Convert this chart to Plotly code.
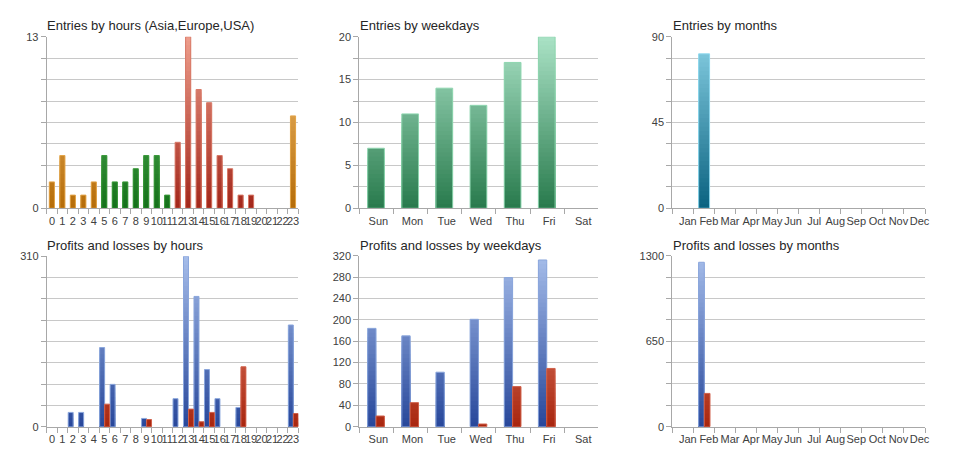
import plotly.graph_objects as go

# ---------------- data ----------------
hour_labels = ['0', '1', '2', '3', '4', '5', '6', '7', '8', '9', '10', '11',
               '12', '13', '14', '15', '16', '17', '18', '19', '20', '21', '22', '23']
hour_sessions = ['Asia'] * 5 + ['Europe'] * 7 + ['USA'] * 8 + ['Asia'] * 4
weekday_labels = ['Sun', 'Mon', 'Tue', 'Wed', 'Thu', 'Fri', 'Sat']
month_labels = ['Jan', 'Feb', 'Mar', 'Apr', 'May', 'Jun', 'Jul', 'Aug', 'Sep', 'Oct', 'Nov', 'Dec']

entries_by_hour = [2, 4, 1, 1, 2, 4, 2, 2, 3, 4, 4, 1, 5, 13, 9, 8, 4, 3, 1, 1, 0, 0, 0, 7]
entries_by_weekday = [7, 11, 14, 12, 17, 20, 0]
entries_by_month = [0, 81, 0, 0, 0, 0, 0, 0, 0, 0, 0, 0]

profit_by_hour = [0, 0, 26, 26, 0, 144, 77, 0, 0, 15, 0, 0, 51, 310, 237, 104, 51, 0, 35, 0, 0, 0, 0, 185]
loss_by_hour = [0, 0, 0, 0, 0, 41, 0, 0, 0, 13, 0, 0, 0, 32, 9, 26, 0, 0, 109, 0, 0, 0, 0, 24]
profit_by_weekday = [184, 170, 102, 201, 279, 312, 0]
loss_by_weekday = [20, 45, 0, 5, 75, 109, 0]
profit_by_month = [0, 1250, 0, 0, 0, 0, 0, 0, 0, 0, 0, 0]
loss_by_month = [0, 253, 0, 0, 0, 0, 0, 0, 0, 0, 0, 0]

# axis scales (max and labelled ticks)
ymax_list = [13, 20, 90, 310, 320, 1300]
ylabels_list = [[0, 13], [0, 5, 10, 15, 20], [0, 45, 90], [0, 310],
                [0, 40, 80, 120, 160, 200, 240, 280, 320], [0, 650, 1300]]
titles = ['Entries by hours (Asia,Europe,USA)', 'Entries by weekdays', 'Entries by months',
          'Profits and losses by hours', 'Profits and losses by weekdays', 'Profits and losses by months']

# ---------------- styling ----------------
# the page body has an 8px default margin; size the figure so it fits the 960x453 window
BODY = 8
W, H = 960 - 2 * BODY, 453 - 2 * BODY
FONT = 'Liberation Sans, Arial, sans-serif'

session_colors = {  # bottom, top (at top of plot), edge
    'Asia': ('#b56c08', '#f6c47a', '#e3a54a'),
    'Europe': ('#14701a', '#6cc86c', '#3c9a3c'),
    'USA': ('#a2261a', '#ee9e8c', '#d87a68'),
}
green = ('#287a4c', '#aae2c6', '#8fd6b0')
cyan = ('#0a6280', '#88d0e4', '#8ed8ee')
blue = ('#27479a', '#a6bdea', '#8aa6dc')
red = ('#a8260f', '#f09a86', '#d0604a')


def hex2rgb(h):
    h = h.lstrip('#')
    return tuple(int(h[i:i + 2], 16) for i in (0, 2, 4))


def mix(c1, c2, t):
    a, b = hex2rgb(c1), hex2rgb(c2)
    return 'rgb(%d,%d,%d)' % tuple(round(a[i] + (b[i] - a[i]) * t) for i in range(3))


def px_x(x):
    return (x - BODY) / W


def px_y(y):
    return 1 - (y - BODY) / H


fig = go.Figure()

# panel geometry in window pixels: (x0, x1, ytop, ybottom)
geom = [(46.7, 298.3, 36.7, 208.3), (359.3, 598.3, 36.7, 208.3), (672.3, 925, 36.7, 208.3),
        (46.7, 298.3, 256.3, 426.7), (359.3, 598.3, 255.7, 426.7), (672.3, 925, 255.7, 426.7)]
title_pos = [(45, 26), (357.5, 26), (671, 26), (45, 245), (357.5, 245), (670.5, 245)]
cats_list = [hour_labels, weekday_labels, month_labels, hour_labels, weekday_labels, month_labels]
label_shift = [0, 2, 5, 0, 2, 5]

NB = 40


def add_series(n, cats, values, bottoms, tops, edges, ymax, offset, width):
    xr = 'x' if n == 1 else 'x%d' % n
    yr = 'y' if n == 1 else 'y%d' % n
    for k in reversed(range(NB)):
        lo = ymax * k / NB
        hi = ymax * (k + 1) / NB
        ys = [min(v, hi) if v > lo else None for v in values]
        if all(y is None for y in ys):
            continue
        t = (k + 0.5) / NB
        cols = [mix(b, tp, t) for b, tp in zip(bottoms, tops)]
        fig.add_trace(go.Bar(x=cats, y=ys, offset=offset, width=width,
                             marker=dict(color=cols, line=dict(width=0)),
                             xaxis=xr, yaxis=yr, showlegend=False, hoverinfo='skip'))
    fig.add_trace(go.Bar(x=cats, y=[v if v > 0 else None for v in values], offset=offset, width=width,
                         marker=dict(color='rgba(0,0,0,0)', line=dict(width=1, color=edges)),
                         xaxis=xr, yaxis=yr, showlegend=False, hoverinfo='skip'))


# Entries by hours
add_series(1, hour_labels, entries_by_hour,
           [session_colors[s][0] for s in hour_sessions],
           [session_colors[s][1] for s in hour_sessions],
           [session_colors[s][2] for s in hour_sessions], ymax_list[0], -0.25, 0.49)
# Entries by weekdays
n7 = len(weekday_labels)
add_series(2, weekday_labels, entries_by_weekday, [green[0]] * n7, [green[1]] * n7, [green[2]] * n7,
           ymax_list[1], -0.255, 0.49)
# Entries by months
n12 = len(month_labels)
add_series(3, month_labels, entries_by_month, [cyan[0]] * n12, [cyan[1]] * n12, [cyan[2]] * n12,
           ymax_list[2], -0.25, 0.52)
# Profits/losses by hours
n24 = len(hour_labels)
add_series(4, hour_labels, profit_by_hour, [blue[0]] * n24, [blue[1]] * n24, [blue[2]] * n24,
           ymax_list[3], -0.45, 0.475)
add_series(4, hour_labels, loss_by_hour, [red[0]] * n24, [red[1]] * n24, [red[2]] * n24,
           ymax_list[3], 0.03, 0.47)
# Profits/losses by weekdays
add_series(5, weekday_labels, profit_by_weekday, [blue[0]] * n7, [blue[1]] * n7, [blue[2]] * n7,
           ymax_list[4], -0.255, 0.245)
add_series(5, weekday_labels, loss_by_weekday, [red[0]] * n7, [red[1]] * n7, [red[2]] * n7,
           ymax_list[4], -0.01, 0.245)
# Profits/losses by months
add_series(6, month_labels, profit_by_month, [blue[0]] * n12, [blue[1]] * n12, [blue[2]] * n12,
           ymax_list[5], -0.25, 0.27)
add_series(6, month_labels, loss_by_month, [red[0]] * n12, [red[1]] * n12, [red[2]] * n12,
           ymax_list[5], 0.02, 0.27)

layout = dict(width=W, height=H, margin=dict(l=0, r=0, t=0, b=0, pad=0), template='none',
              paper_bgcolor='white', plot_bgcolor='white', barmode='overlay',
              font=dict(family=FONT, size=11, color='#404040'), annotations=[])

for i in range(6):
    n = i + 1
    x0, x1, yt, yb = geom[i]
    ymax = ymax_list[i]
    tv = [ymax * j / 8 for j in range(9)]
    tt = []
    for v in tv:
        lab = ''
        for L in ylabels_list[i]:
            if abs(L - v) < 1e-6:
                lab = str(L)
        tt.append(lab)
    cats = cats_list[i]
    xa = 'xaxis' if n == 1 else 'xaxis%d' % n
    ya = 'yaxis' if n == 1 else 'yaxis%d' % n
    layout[xa] = dict(domain=[px_x(x0), px_x(x1)], anchor='y' if n == 1 else 'y%d' % n,
                      type='category', categoryorder='array', categoryarray=cats,
                      range=[-0.5, len(cats) - 0.5], showgrid=False, zeroline=False,
                      showline=True, linecolor='#a8a8a8', linewidth=1, automargin=False,
                      ticks='outside', tickson='boundaries', ticklen=5, tickcolor='#a8a8a8',
                      tickangle=0, tickmode='array', tickvals=cats, ticktext=cats,
                      ticklabelstandoff=2, ticklabelshift=label_shift[i],
                      tickfont=dict(size=11, color='#404040'), fixedrange=True)
    layout[ya] = dict(domain=[px_y(yb), px_y(yt)], anchor='x' if n == 1 else 'x%d' % n,
                      range=[0, ymax], showgrid=True, gridcolor='#c8c8c8', gridwidth=1,
                      zeroline=False, showline=True, linecolor='#a8a8a8', linewidth=1,
                      automargin=False,
                      ticks='outside', ticklen=5, tickcolor='#a8a8a8',
                      tickmode='array', tickvals=tv, ticktext=tt,
                      tickfont=dict(size=11, color='#404040'), fixedrange=True)
    tx, ty = title_pos[i]
    layout['annotations'].append(dict(text=titles[i], xref='paper', yref='paper',
                                      x=px_x(tx), y=px_y(ty), xanchor='left', yanchor='middle',
                                      showarrow=False, font=dict(size=13, color='#262626', family=FONT)))

fig.update_layout(**layout)
fig.write_html('out.html')
